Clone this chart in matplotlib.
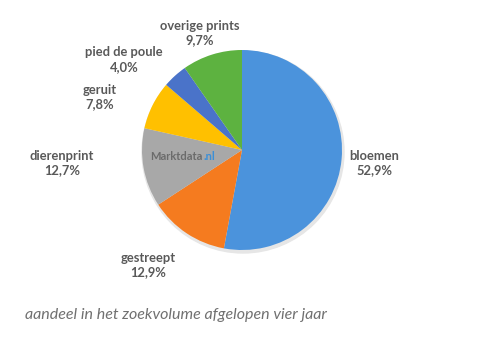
import matplotlib.pyplot as plt

labels = ['bloemen', 'gestreept', 'dierenprint', 'geruit', 'pied de poule', 'overige prints']
shares = [52.9, 12.9, 12.7, 7.8, 4.0, 9.7]
colors = ['#4b93dc', '#f57b1f', '#a8a8a8', '#ffc000', '#4a73c9', '#5db240']

# label anchor points in pixels (x, y from top)
label_pos = [(374, 163), (148, 265), (62, 163), (100, 97), (124, 60), (200, 33)]

W, H = 480, 338
fig = plt.figure(figsize=(W / 100, H / 100), dpi=100)
ax = fig.add_axes([0, 0, 1, 1])
ax.set_xlim(0, W)
ax.set_ylim(0, H)
ax.set_aspect('equal')
ax.axis('off')

# soft shadow
shadow = plt.Circle((243, H - 152), 101, color='#e6e6e6', zorder=0)
ax.add_patch(shadow)

ax.pie(shares, colors=colors, startangle=90, counterclock=False,
       center=(242, H - 150), radius=100, frame=True,
       wedgeprops=dict(linewidth=0))
ax.set_xlim(0, W)
ax.set_ylim(0, H)
ax.axis('off')

for name, val, (px, py) in zip(labels, shares, label_pos):
    txt = name + '\n' + ('%.1f' % val).replace('.', ',') + '%'
    ax.text(px, H - py, txt, ha='center', va='center', fontsize=9.3,
            fontfamily='Lato', fontweight='bold', color='#595959',
            linespacing=1.3)

ax.text(150, H - 157, 'Marktdata', ha='left', va='center', fontsize=8,
        fontfamily='Lato', fontweight='bold', color='#6b6b6b')
ax.text(204, H - 157, '.nl', ha='left', va='center', fontsize=8,
        fontfamily='Lato', fontweight='bold', color='#3a8fd8')

ax.text(25, H - 315, 'aandeel in het zoekvolume afgelopen vier jaar',
        ha='left', va='center', fontsize=11.5, fontfamily='Lato',
        fontstyle='italic', color='#707070')

fig.savefig('out.png', dpi=100)
